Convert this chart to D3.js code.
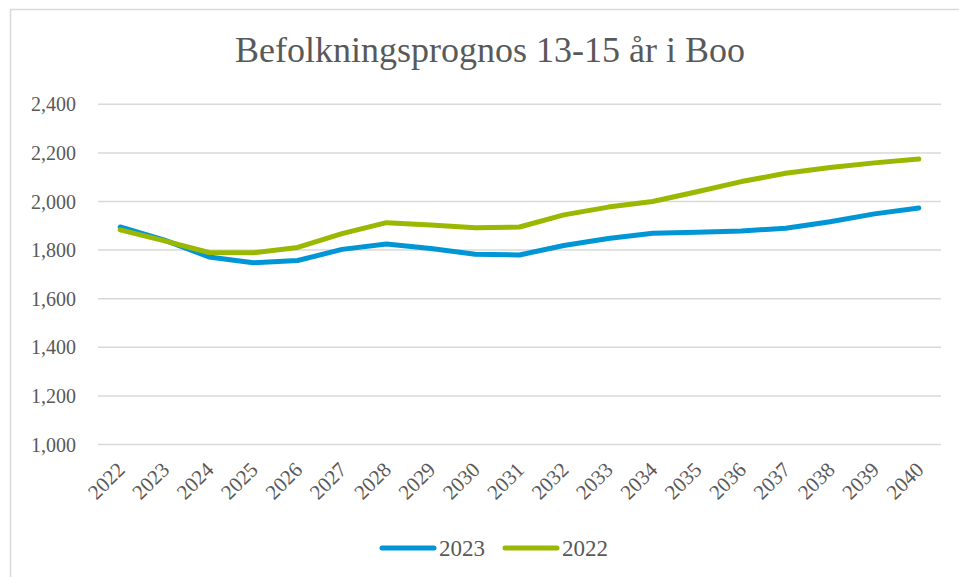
<!DOCTYPE html>
<html lang="sv">
<head>
    <meta charset="UTF-8">
    <title>Befolkningsprognos 13-15 år i Boo</title>
    <script src="https://d3js.org/d3.v7.min.js"></script>
    <style>
        body {
            margin: 0;
            background-color: #fff;
            font-family: 'Liberation Serif', 'DejaVu Serif', serif;
        }

        .grid line {
            stroke: #d9d9d9;
            stroke-width: 1.5;
        }

        .tick-label {
            fill: #595959;
            font-size: 20px;
        }

        .year-label {
            fill: #595959;
            font-size: 21px;
        }

        .legend-label {
            fill: #595959;
            font-size: 23px;
        }

        .title {
            fill: #595959;
            font-size: 36px;
            text-anchor: middle;
        }

        .series {
            fill: none;
            stroke-width: 5;
            stroke-linejoin: round;
            stroke-linecap: round;
        }
    </style>
</head>
<body>
    <svg width="959" height="577"></svg>

    <script>
        // data
        var years = ["2022", "2023", "2024", "2025", "2026", "2027", "2028", "2029", "2030", "2031",
                     "2032", "2033", "2034", "2035", "2036", "2037", "2038", "2039", "2040"];
        var prognos2023 = [1895, 1841, 1772, 1748, 1757, 1803, 1825, 1807, 1783, 1780,
                           1819, 1848, 1869, 1873, 1879, 1890, 1917, 1949, 1973];
        var prognos2022 = [1883, 1838, 1790, 1789, 1811, 1868, 1913, 1903, 1892, 1895,
                           1945, 1977, 2000, 2040, 2082, 2116, 2140, 2159, 2175];
        var seriesNames = ["2023", "2022"];
        var seriesColors = ["#0096d6", "#9bb800"];
        var yTicks = [1000, 1200, 1400, 1600, 1800, 2000, 2200, 2400];

        var svg = d3.select("svg");

        // chart frame
        svg.append("rect")
            .attr("x", 10.5)
            .attr("y", 9.5)
            .attr("width", 1000)
            .attr("height", 600)
            .attr("fill", "#fff")
            .attr("stroke", "#d9d9d9")
            .attr("stroke-width", 1.5);

        svg.append("text")
            .attr("class", "title")
            .attr("x", 490)
            .attr("y", 62)
            .text("Befolkningsprognos 13-15 år i Boo");

        var x = d3.scalePoint()
            .domain(years)
            .range([98, 941])
            .padding(0.5);

        var y = d3.scaleLinear()
            .domain([1000, 2400])
            .range([444.5, 104.3]);

        // gridlines
        svg.append("g")
            .attr("class", "grid")
            .selectAll("line")
            .data(yTicks)
            .enter().append("line")
            .attr("x1", 98)
            .attr("x2", 941)
            .attr("y1", function(d) { return y(d); })
            .attr("y2", function(d) { return y(d); });

        var fmt = d3.format(",");

        svg.append("g")
            .selectAll("text")
            .data(yTicks)
            .enter().append("text")
            .attr("class", "tick-label")
            .attr("x", 76)
            .attr("y", function(d) { return y(d) + 7; })
            .attr("text-anchor", "end")
            .text(function(d) { return fmt(d); });

        // rotated year labels
        svg.append("g")
            .selectAll("text")
            .data(years)
            .enter().append("text")
            .attr("class", "year-label")
            .attr("text-anchor", "end")
            .attr("transform", function(d) {
                return "translate(" + (x(d) + 6) + ",471) rotate(-45)";
            })
            .text(function(d) { return d; });

        var line = d3.line()
            .x(function(d, i) { return x(years[i]); })
            .y(function(d) { return y(d); });

        var allSeries = [prognos2023, prognos2022];

        svg.selectAll(".series")
            .data(allSeries)
            .enter().append("path")
            .attr("class", "series")
            .attr("stroke", function(d, i) { return seriesColors[i]; })
            .attr("d", line);

        // legend
        var legend = svg.append("g")
            .attr("transform", "translate(380,548)");

        var item = legend.selectAll("g")
            .data(seriesNames)
            .enter().append("g")
            .attr("transform", function(d, i) { return "translate(" + (i * 123) + ",0)"; });

        item.append("line")
            .attr("x1", 2)
            .attr("x2", 54)
            .attr("stroke", function(d, i) { return seriesColors[i]; })
            .attr("stroke-width", 5)
            .attr("stroke-linecap", "round");

        item.append("text")
            .attr("class", "legend-label")
            .attr("x", 59)
            .attr("y", 8)
            .text(function(d) { return d; });
    </script>
</body>
</html>
